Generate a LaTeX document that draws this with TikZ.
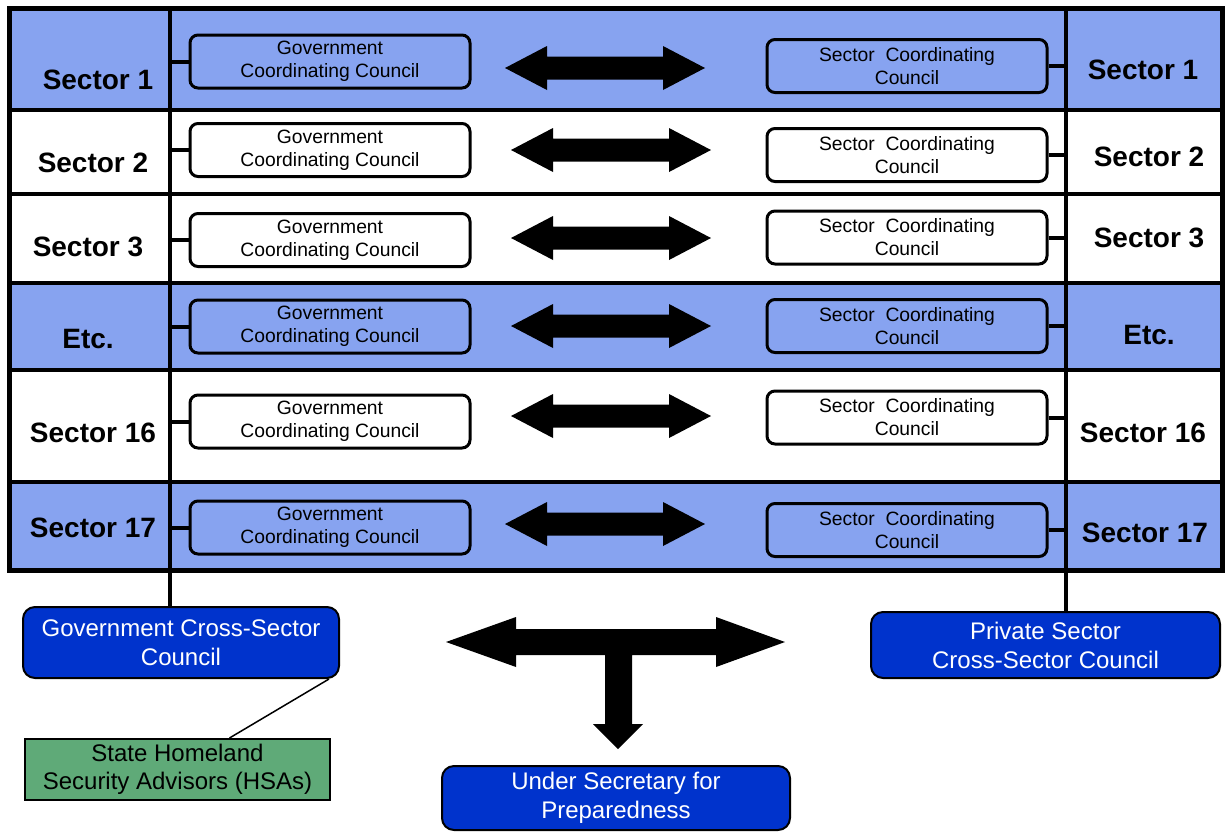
\documentclass[tikz,border=0pt]{standalone}
\usepackage{fontspec}
\setmainfont{Liberation Sans}
\usetikzlibrary{calc}
\definecolor{rowblue}{RGB}{135,163,240}
\definecolor{boxblue}{RGB}{0,51,204}
\definecolor{hsagreen}{RGB}{95,170,120}
\begin{document}
\begin{tikzpicture}[x=0.5pt,y=-0.5pt,
  council/.style={draw=black, line width=1.5pt, rounded corners=4pt,
    minimum width=140pt, minimum height=26.5pt, align=center,
    font=\fontsize{9.65}{11.5}\selectfont, inner sep=0pt},
  seclabel/.style={font=\fontsize{14}{16}\selectfont\bfseries, inner sep=0pt},
  bluebox/.style={draw=black, line width=1pt, fill=boxblue, text=white,
    rounded corners=6pt, align=center, font=\fontsize{12}{14.5}\selectfont, inner sep=0pt},
  greenbox/.style={draw=black, line width=1pt, fill=hsagreen, align=center,
    font=\fontsize{12}{14}\selectfont, inner sep=0pt},
  link/.style={line width=2pt},
  sep/.style={line width=2pt},
  dblarrow/.pic={\fill[black] (-100,0) -- (-58,-22) -- (-58,-11.5) -- (58,-11.5) -- (58,-22)
     -- (100,0) -- (58,22) -- (58,11.5) -- (-58,11.5) -- (-58,22) -- cycle;}]
\useasboundingbox (0,0) rectangle (1225,831);

% row fills
\fill[rowblue] (9,8) rectangle (1222,110);
\fill[rowblue] (9,283) rectangle (1222,370);
\fill[rowblue] (9,482) rectangle (1222,570);

% separators and frame
\foreach \yy in {110,194,283,370,482}
  \draw[sep] (9,\yy) -- (1222,\yy);
\draw[line width=2.5pt] (9,8) rectangle (1222,570);

% named coordinates for vertical lines
\coordinate (lv) at (170,8);
\coordinate (rv) at (1066,8);

% bottom boxes
\node[bluebox, minimum width=158pt, minimum height=35.5pt] (gcs) at (181,642.5)
  {Government Cross-Sector\\Council};
\node[bluebox, minimum width=174.5pt, minimum height=33pt] (pcs) at (1045.5,645)
  {Private Sector\\Cross-Sector Council};
\node[bluebox, minimum width=174pt, minimum height=32pt] (usp) at (616,798)
  {Under Secretary for\\Preparedness};
\node[greenbox, minimum width=152.5pt, minimum height=30.5pt] (hsa) at (177.5,769.5)
  {State Homeland\\Security Advisors (HSAs)};

% vertical lines
\draw[line width=1.75pt] (lv) -- (gcs.north -| lv);
\draw[line width=1.75pt] (rv) -- (pcs.north -| rv);

% councils, connectors, arrows
\foreach \i/\gy/\sy/\ay/\ax in {1/61.5/66/68/605, 2/150/155/150/611, 3/240/237.5/238/611,
    4/326.5/326/326/611, 5/421.5/417.5/416/611, 6/527.5/530/524/605} {
  \node[council] (g\i) at (330,\gy) {Government\\Coordinating Council};
  \node[council] (s\i) at (907,\sy) {Sector~~Coordinating\\Council};
  \draw[link] (g\i.west) -- (g\i.west -| lv);
  \draw[link] (s\i.east) -- (s\i.east -| rv);
  \pic at (\ax,\ay) {dblarrow};
}

% sector labels
\node[seclabel] (l1) at (98,80) {Sector 1};
\node[seclabel] (l2) at (93,163) {Sector 2};
\node[seclabel] (l3) at (88,247) {Sector 3};
\node[seclabel] (l4) at (88,339) {Etc.};
\node[seclabel] (l5) at (93,433) {Sector 16};
\node[seclabel] (l6) at (93,528) {Sector 17};
\node[seclabel] (r1) at (1143,70) {Sector 1};
\node[seclabel] (r2) at (1149,157) {Sector 2};
\node[seclabel] (r3) at (1149,238) {Sector 3};
\node[seclabel] (r4) at (1149,335) {Etc.};
\node[seclabel] (r5) at (1143,433) {Sector 16};
\node[seclabel] (r6) at (1145,533) {Sector 17};

% T arrow
\fill[black] (446,642) -- (516,617) -- (516,629) -- (716,629) -- (716,617) -- (785,642)
  -- (716,667) -- (716,655) -- (632,655) -- (632,724) -- (643,724) -- (618,749)
  -- (593,724) -- (605,724) -- (605,655) -- (516,655) -- (516,667) -- cycle;

% gov council to HSAs
\draw[line width=0.75pt] ($(gcs.south east)+(-11,0)$) -- ($(hsa.north)+(52,0)$);
\end{tikzpicture}
\end{document}
